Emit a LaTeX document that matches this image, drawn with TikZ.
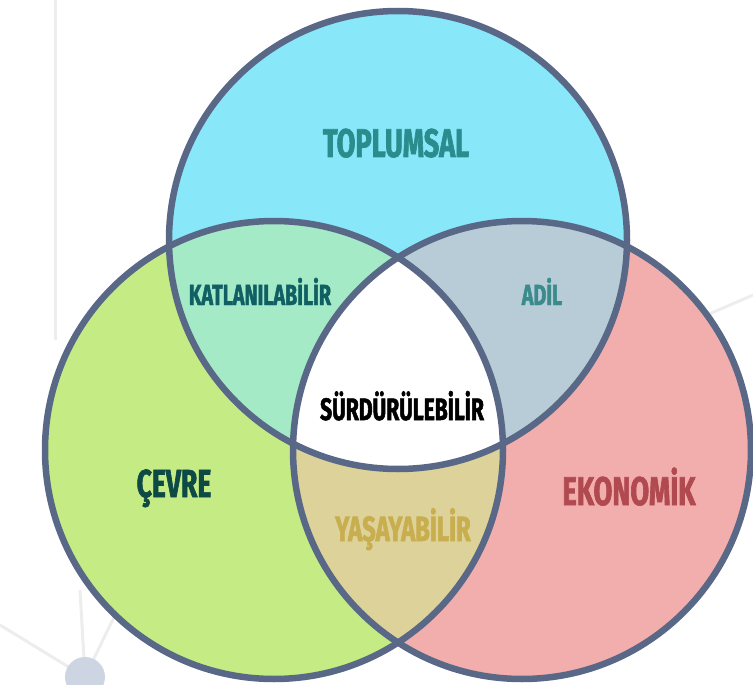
\documentclass[tikz,border=0pt]{standalone}
\usepackage{fontspec}
\setmainfont{Fira Sans}[FakeStretch=0.68,BoldFeatures={FakeBold=1.6}]
\definecolor{rim}{RGB}{90,104,135}
\definecolor{cyanfill}{RGB}{136,232,250}
\definecolor{greenfill}{RGB}{197,235,133}
\definecolor{pinkfill}{RGB}{241,174,173}
\definecolor{mintfill}{RGB}{165,234,198}
\definecolor{slatefill}{RGB}{184,204,216}
\definecolor{tanfill}{RGB}{221,210,154}
\definecolor{toptext}{RGB}{42,140,140}
\definecolor{kattext}{RGB}{15,95,100}
\definecolor{adiltext}{RGB}{58,140,140}
\definecolor{cevretext}{RGB}{13,74,69}
\definecolor{ekotext}{RGB}{176,74,80}
\definecolor{yastext}{RGB}{200,174,78}
\definecolor{hubfill}{RGB}{205,213,226}
\tikzset{
  ring/.style={draw=rim,line width=6.5pt},
  lbl/.style={anchor=base,inner sep=0pt},
  haze/.style={draw=black!7,line width=3pt}
}
\newcommand{\lblsize}[1]{\fontsize{#1}{#1}\selectfont\bfseries}
\begin{document}
\begin{tikzpicture}[x=1pt,y=-1pt]
\pgfmathsetmacro{\kr}{229}
\clip (0,0) rectangle (753,685);
\coordinate (top) at (398,240);
\coordinate (lft) at (274,450);
\coordinate (rgt) at (522,450);
\coordinate (hub) at (85,677);
\draw[haze] (55,0)--(55,340);
\draw[haze] (753,295)--(700,318);
\draw[haze] (hub)--(80,590);
\draw[haze] (hub)--(0,625);
\draw[haze] (hub)--(115,615);
\fill[hubfill] (hub) circle[radius=20pt];
\fill[cyanfill] (top) circle[radius=\kr pt];
\fill[greenfill] (lft) circle[radius=\kr pt];
\fill[pinkfill] (rgt) circle[radius=\kr pt];
\begin{scope}
\clip (top) circle[radius=\kr pt];
\fill[mintfill] (lft) circle[radius=\kr pt];
\fill[slatefill] (rgt) circle[radius=\kr pt];
\end{scope}
\begin{scope}
\clip (lft) circle[radius=\kr pt];
\fill[tanfill] (rgt) circle[radius=\kr pt];
\clip (top) circle[radius=\kr pt];
\fill[white] (rgt) circle[radius=\kr pt];
\end{scope}
\draw[ring] (top) circle[radius=\kr pt];
\draw[ring] (lft) circle[radius=\kr pt];
\draw[ring] (rgt) circle[radius=\kr pt];
\node[lbl,font=\lblsize{40},text=toptext] (toplumsal) at (396,157) {TOPLUMSAL};
\node[lbl,font=\lblsize{29},text=kattext] (katlan) at (260,305) {KATLANILABİLİR};
\node[lbl,font=\lblsize{29},text=adiltext] (adil) at (542,305) {ADİL};
\node[lbl,font=\lblsize{31},text=black] (surdur) at (402,420) {SÜRDÜRÜLEBİLİR};
\node[lbl,font=\lblsize{39},text=cevretext] (cevre) at (174,497) {ÇEVRE};
\node[lbl,font=\lblsize{40},text=ekotext] (ekonomik) at (629,505) {EKONOMİK};
\node[lbl,font=\lblsize{35},text=yastext] (yasa) at (403,541) {YAŞAYABİLİR};
\end{tikzpicture}
\end{document}
